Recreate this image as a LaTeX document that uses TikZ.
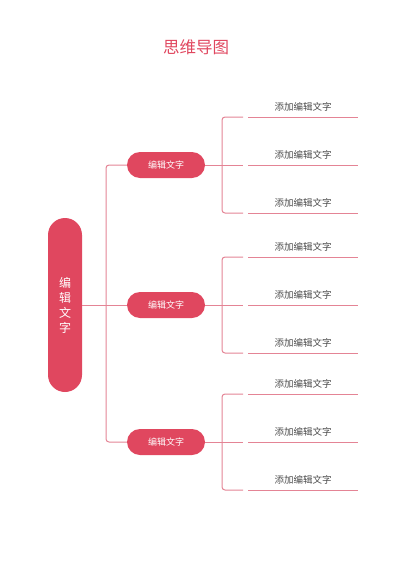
\documentclass[tikz,border=0pt]{standalone}
\usepackage{fontspec}
\newfontfamily\cjk{Noto Sans CJK SC}
\usetikzlibrary{positioning}
\definecolor{mred}{HTML}{E0475F}
\definecolor{mline}{HTML}{E48495}
\definecolor{mtext}{HTML}{4A4A4A}
\begin{document}
\begin{tikzpicture}[x=1pt,y=-1pt,
    rootbox/.style={fill=mred,text=white,rounded corners=17pt,minimum width=34pt,
      minimum height=174pt,inner sep=0pt,align=center,font=\cjk\fontsize{12}{15}\selectfont},
    subbox/.style={fill=mred,text=white,rounded corners=13pt,minimum width=78pt,
      minimum height=26pt,inner sep=0pt,font=\cjk\fontsize{9}{9}\selectfont},
    leaf/.style={text=mtext,inner sep=0pt,font=\cjk\fontsize{9.5}{9.5}\selectfont},
    conn/.style={mline,line width=1pt,rounded corners=3pt}]
  \useasboundingbox (0,0) rectangle (400,565);
  % title
  \node[text=mred,font=\cjk\fontsize{16.5}{16.5}\selectfont] (title) at (196,47) {思维导图};
  % root
  \node[rootbox] (root) at (65,305) {编\\辑\\文\\字};
  % branches
  \node[subbox] (b1) at (166,165) {编辑文字};
  \node[subbox] (b2) at (166,305) {编辑文字};
  \node[subbox] (b3) at (166,442) {编辑文字};
  \draw[conn] (root.east) -- (b2.west);
  \draw[conn] (b1.west) -| (106,305) |- (b3.west);
  % leaves
  \foreach \i/\y in {1/165,2/305,3/442}{%
    \foreach \j/\d in {1/-48,2/0,3/48}{%
      \coordinate (e\i\j) at (248,\y+\d);
      \node[leaf] (l\i\j) at (303,\y+\d-10) {添加编辑文字};
      \draw[conn] (e\i\j) -- ++(110,0);}
    \draw[conn] ([xshift=-5pt]e\i1) -| (222,\y) |- ([xshift=-5pt]e\i3);
    \draw[conn] (b\i.east) -- ([xshift=-5pt]e\i2);}
\end{tikzpicture}
\end{document}
